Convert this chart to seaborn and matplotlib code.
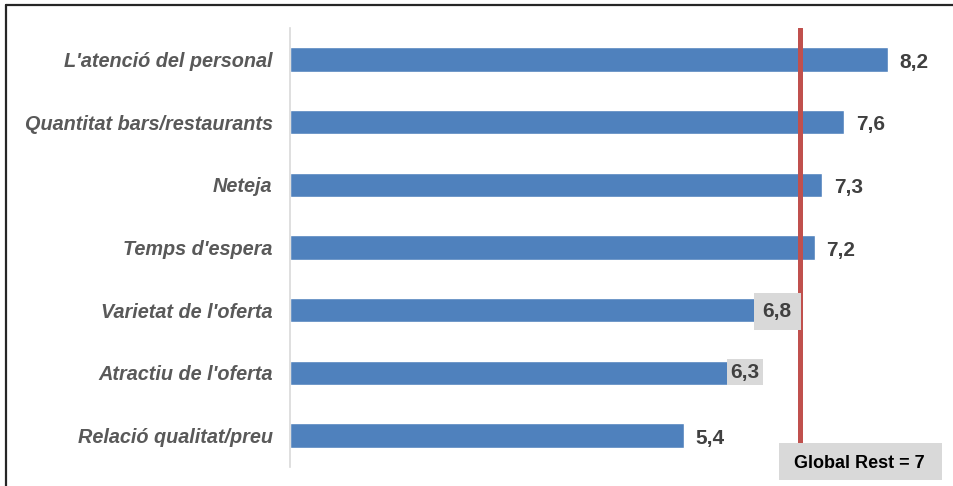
import matplotlib
matplotlib.use("Agg")
import matplotlib.pyplot as plt
from matplotlib.lines import Line2D
from matplotlib.patches import Rectangle
import seaborn as sns
import pandas as pd

# Satisfaction scores by service aspect
categories = [
    "L'atenció del personal",
    "Quantitat bars/restaurants",
    "Neteja",
    "Temps d'espera",
    "Varietat de l'oferta",
    "Atractiu de l'oferta",
    "Relació qualitat/preu",
]
scores = [8.2, 7.6, 7.3, 7.2, 6.8, 6.3, 5.4]
value_labels = ["8,2", "7,6", "7,3", "7,2", "6,8", "6,3", "5,4"]
global_value = 7
global_label = "Global Rest = 7"

df = pd.DataFrame({"aspecte": categories, "valor": scores})

sns.set_theme(style="white")
plt.rcParams["font.family"] = ["Liberation Sans", "DejaVu Sans"]

W, H = 954, 486
fig = plt.figure(figsize=(W / 100, H / 100), dpi=100)
ax = fig.add_axes([290 / W, 1 - 467 / H, (946 - 290) / W, (467 - 28) / H])

bar_color = "#4F81BD"
sns.barplot(data=df, x="valor", y="aspecte", color=bar_color, saturation=1,
            width=0.39, ax=ax, orient="h")

ax.set_xlim(0, 9)
ax.set_ylim(len(categories) - 0.5, -0.5)
ax.set_xlabel("")
ax.set_ylabel("")
ax.set_xticks([])
for side in ["top", "right", "bottom"]:
    ax.spines[side].set_visible(False)
ax.spines["left"].set_color("#D9D9D9")
ax.spines["left"].set_linewidth(1.2)
ax.tick_params(axis="y", length=0, pad=12.5)
for lbl in ax.get_yticklabels():
    lbl.set_fontsize(14.3)
    lbl.set_fontweight("bold")
    lbl.set_fontstyle("italic")
    lbl.set_color("#595959")

# Reference line for the global score
ax.axvline(global_value, ymin=0.055, ymax=1, color="#C0504D", lw=3.6, zorder=3)

# Value labels; two of them sit on a grey box over the bar end
boxed = {4: (-6, -1.0, 0.42), 5: (-3, 0.5, 0.17)}
for i, (v, t) in enumerate(zip(scores, value_labels)):
    if i in boxed:
        dx, dy, pad = boxed[i]
        ax.annotate(t, xy=(v, i), xytext=(dx, dy), textcoords="offset points",
                    ha="center", va="center", fontsize=15, fontweight="bold",
                    color="#404040", zorder=5,
                    bbox=dict(boxstyle=f"square,pad={pad}", fc="#D9D9D9", ec="none"))
    else:
        ax.annotate(t, xy=(v, i), xytext=(8.5, -2), textcoords="offset points",
                    ha="left", va="center", fontsize=15, fontweight="bold",
                    color="#404040", zorder=5)

# Legend-like box for the global score
fig.patches.append(Rectangle((779 / W, 1 - 480 / H), (942 - 779) / W, 37 / H,
                             transform=fig.transFigure, fc="#D9D9D9", ec="none"))
fig.text(859 / W, 1 - 463 / H, global_label, ha="center", va="center",
         fontsize=13, fontweight="bold", color="black")

# Frame lines along the left and top edges
fig.lines.append(Line2D([6.5 / W, 6.5 / W], [0, 1 - 5.5 / H],
                        transform=fig.transFigure, color="#262626", lw=1.6))
fig.lines.append(Line2D([6.5 / W, 1], [1 - 5.5 / H, 1 - 5.5 / H],
                        transform=fig.transFigure, color="#262626", lw=1.6))

fig.savefig("out.png", dpi=100)
